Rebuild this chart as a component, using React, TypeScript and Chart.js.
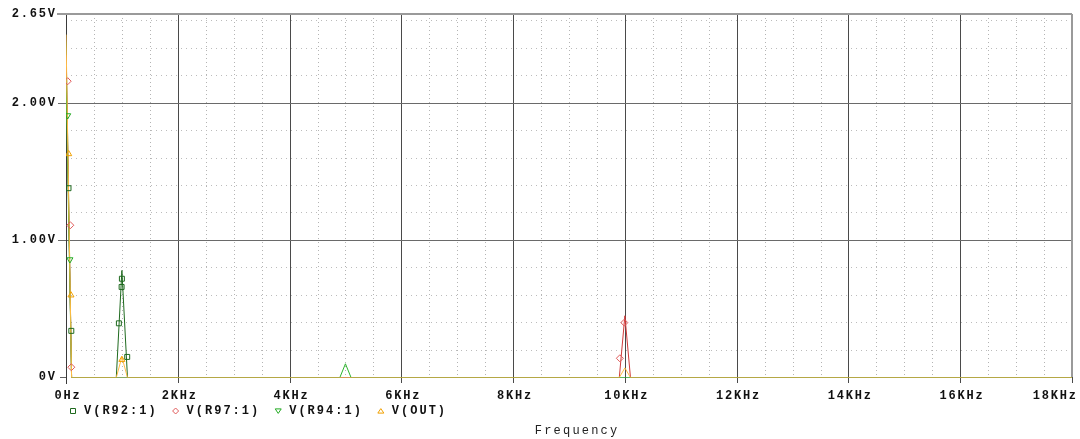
import React, { useEffect, useRef } from 'react';
import { Chart, registerables } from 'chart.js';

Chart.register(...registerables);

// ---- axis ticks ----
const xTickValues = [0, 2000, 4000, 6000, 8000, 10000, 12000, 14000, 16000, 18000];
const xTickLabels = ['0Hz', '2KHz', '4KHz', '6KHz', '8KHz', '10KHz', '12KHz', '14KHz', '16KHz', '18KHz'];
const yTickValues = [0, 1, 2, 2.65];
const yTickLabels = ['0V', '1.00V', '2.00V', '2.65V'];
const xAxisTitle = 'Frequency';

// ---- series ----
const seriesNames = ['V(R92:1)', 'V(R97:1)', 'V(R94:1)', 'V(OUT)'];

const r92Freq = [0, 100, 900, 1000, 1100, 18000];
const r92Volts = [2.45, 0, 0, 0.78, 0, 0];
const r97Freq = [0, 100, 9900, 10000, 10100, 18000];
const r97Volts = [2.35, 0, 0, 0.45, 0, 0];
const r94Freq = [0, 100, 4900, 5000, 5100, 18000];
const r94Volts = [2.2, 0, 0, 0.1, 0, 0];
const outFreq = [0, 100, 900, 1000, 1100, 9900, 10000, 10100, 18000];
const outVolts = [2.5, 0, 0, 0.15, 0, 0, 0.07, 0, 0];

// ---- trace symbols ----
const r92MarkFreq = [45, 95, 946, 995, 1000, 1095];
const r92MarkVolts = [1.38, 0.34, 0.395, 0.66, 0.72, 0.15];
const r97MarkFreq = [30, 77, 95, 9910, 9990];
const r97MarkVolts = [2.16, 1.11, 0.075, 0.14, 0.4];
const r94MarkFreq = [30, 70];
const r94MarkVolts = [1.91, 0.86];
const outMarkFreq = [48, 89, 1000];
const outMarkVolts = [1.63, 0.6, 0.13];

const lineColors = ['#1f6a1f', '#d03a3a', '#2cb52c', '#ffbb44'];
const markColors = ['#1f6a1f', '#e05a5a', '#22aa22', '#f0a000'];
const markStyles = ['rect', 'rectRot', 'triangle', 'triangle'];
const markRot = [0, 0, 180, 0];

const toPts = (f: number[], v: number[]) => f.map((x, i) => ({ x, y: v[i] }));

const FONT_BOLD = 'bold 12px "Liberation Mono", "DejaVu Sans Mono", monospace';
const FONT_REG = '12px "Liberation Mono", "DejaVu Sans Mono", monospace';

function measureSpaced(ctx: CanvasRenderingContext2D, text: string, spacing: number) {
  const chars = Array.from(text);
  return chars.reduce((a, c) => a + ctx.measureText(c).width, 0) + spacing * (chars.length - 1);
}

function drawSpaced(ctx: CanvasRenderingContext2D, text: string, x: number, y: number, align: string, spacing: number, maxRight = Infinity) {
  const chars = Array.from(text);
  const widths = chars.map((c) => ctx.measureText(c).width);
  const w = measureSpaced(ctx, text, spacing);
  let sx = align === 'right' ? x - w : align === 'center' ? x - w / 2 : x;
  if (sx + w > maxRight) sx = maxRight - w;
  ctx.textAlign = 'left';
  chars.forEach((c, i) => {
    ctx.fillText(c, sx, y);
    sx += widths[i] + spacing;
  });
  return w;
}

function drawMarker(ctx: CanvasRenderingContext2D, idx: number, cx: number, cy: number, r: number) {
  ctx.save();
  ctx.strokeStyle = markColors[idx];
  ctx.lineWidth = 1;
  ctx.beginPath();
  if (idx === 0) {
    ctx.rect(cx - r + 0.5, cy - r + 0.5, 2 * r - 1, 2 * r - 1);
  } else if (idx === 1) {
    ctx.moveTo(cx, cy - r);
    ctx.lineTo(cx + r, cy);
    ctx.lineTo(cx, cy + r);
    ctx.lineTo(cx - r, cy);
    ctx.closePath();
  } else if (idx === 2) {
    ctx.moveTo(cx - r, cy - r * 0.7);
    ctx.lineTo(cx + r, cy - r * 0.7);
    ctx.lineTo(cx, cy + r * 0.8);
    ctx.closePath();
  } else {
    ctx.moveTo(cx - r, cy + r * 0.7);
    ctx.lineTo(cx + r, cy + r * 0.7);
    ctx.lineTo(cx, cy - r * 0.8);
    ctx.closePath();
  }
  ctx.stroke();
  ctx.restore();
}

const framePlugin = {
  id: 'pspiceFrame',
  beforeDatasetsDraw(chart: any) {
    const { ctx, chartArea: a, scales } = chart;
    const xs = scales.x;
    const ys = scales.y;
    const bottomPx = Math.floor(ys.getPixelForValue(0));
    ctx.save();
    ctx.lineWidth = 1;
    // minor dotted grid
    ctx.strokeStyle = '#b4b4b4';
    ctx.setLineDash([1, 3]);
    for (let i = 1; i < 36; i++) {
      if (i % 4 === 0) continue;
      const px = Math.round(xs.getPixelForValue(i * 500)) + 0.5;
      ctx.beginPath();
      ctx.moveTo(px, a.top);
      ctx.lineTo(px, bottomPx);
      ctx.stroke();
    }
    ctx.strokeStyle = '#bcbcbc';
    ctx.setLineDash([1, 4]);
    for (let i = 1; i <= 13; i++) {
      if (i % 5 === 0) continue;
      const py = Math.floor(ys.getPixelForValue(i * 0.2)) + 0.5;
      ctx.beginPath();
      ctx.moveTo(a.left, py);
      ctx.lineTo(a.right, py);
      ctx.stroke();
    }
    ctx.setLineDash([]);
    // major grid
    ctx.strokeStyle = '#4a4a4a';
    xTickValues.forEach((v) => {
      if (v === 0) return;
      const px = Math.round(xs.getPixelForValue(v)) + 0.5;
      ctx.beginPath();
      ctx.moveTo(px, a.top);
      ctx.lineTo(px, bottomPx + 6);
      ctx.stroke();
    });
    ctx.strokeStyle = '#6a6a6a';
    yTickValues.forEach((v) => {
      if (v === 0 || v === 2.65) return;
      const py = Math.floor(ys.getPixelForValue(v)) + 0.5;
      ctx.beginPath();
      ctx.moveTo(a.left - 8, py);
      ctx.lineTo(a.right, py);
      ctx.stroke();
    });
    // 0V tick left of the axis
    const by = bottomPx + 0.5;
    ctx.strokeStyle = '#606060';
    ctx.beginPath();
    ctx.moveTo(a.left - 6, by);
    ctx.lineTo(a.left, by);
    ctx.stroke();
    // left axis
    const lx = Math.round(xs.getPixelForValue(0)) + 0.5;
    ctx.strokeStyle = '#3a3a3a';
    ctx.beginPath();
    ctx.moveTo(lx, a.top);
    ctx.lineTo(lx, bottomPx + 7);
    ctx.stroke();
    // top and right borders
    ctx.strokeStyle = '#9a9a9a';
    ctx.lineWidth = 2;
    ctx.beginPath();
    ctx.moveTo(a.left - 9, a.top);
    ctx.lineTo(a.right, a.top);
    ctx.stroke();
    ctx.beginPath();
    ctx.moveTo(a.right, a.top);
    ctx.lineTo(a.right, bottomPx);
    ctx.stroke();

    // tick labels
    ctx.fillStyle = '#111';
    ctx.font = FONT_BOLD;
    ctx.textBaseline = 'middle';
    yTickValues.forEach((v, i) => {
      const py = ys.getPixelForValue(v);
      drawSpaced(ctx, yTickLabels[i], a.left - 11, py - 0.5, 'right', 1.8);
    });
    xTickValues.forEach((v, i) => {
      const px = xs.getPixelForValue(v);
      drawSpaced(ctx, xTickLabels[i], px + 1, bottomPx + 19, 'center', 1.8, chart.width - 4);
    });
    // legend
    let lxp = a.left + 7;
    const ly = bottomPx + 34;
    seriesNames.forEach((name, i) => {
      drawMarker(ctx, i, lxp, ly, 3);
      ctx.fillStyle = '#111';
      ctx.font = FONT_BOLD;
      const w = drawSpaced(ctx, name, lxp + 11, ly, 'left', 2.0);
      lxp = lxp + 11 + w + 20;
    });
    // axis title
    ctx.font = FONT_REG;
    ctx.fillStyle = '#222';
    drawSpaced(ctx, xAxisTitle, (a.left + a.right) / 2 + 7, bottomPx + 54, 'center', 2.2);
    ctx.restore();
  },
};

export default function App() {
  const ref = useRef<HTMLCanvasElement | null>(null);
  useEffect(() => {
    document.body.style.margin = '0';
    const canvas = ref.current;
    if (!canvas) return;
    const lineSets = [
      { f: r92Freq, v: r92Volts },
      { f: r97Freq, v: r97Volts },
      { f: r94Freq, v: r94Volts },
      { f: outFreq, v: outVolts },
    ];
    const markSets = [
      { f: r92MarkFreq, v: r92MarkVolts },
      { f: r97MarkFreq, v: r97MarkVolts },
      { f: r94MarkFreq, v: r94MarkVolts },
      { f: outMarkFreq, v: outMarkVolts },
    ];
    const datasets: any[] = [];
    lineSets.forEach((s, i) => {
      datasets.push({
        type: 'line',
        label: seriesNames[i],
        data: toPts(s.f, s.v),
        borderColor: lineColors[i],
        borderWidth: 1,
        pointRadius: 0,
        tension: 0,
        fill: false,
        order: 10 - i,
      });
    });
    markSets.forEach((s, i) => {
      datasets.push({
        type: 'scatter',
        label: seriesNames[i] + ' symbols',
        data: toPts(s.f, s.v),
        showLine: false,
        pointStyle: markStyles[i],
        rotation: markRot[i],
        pointRadius: 3.5,
        pointBorderWidth: 1,
        borderColor: markColors[i],
        backgroundColor: 'rgba(0,0,0,0)',
        order: 0,
      });
    });
    const chart = new Chart(canvas, {
      type: 'line',
      data: { datasets },
      options: {
        animation: false,
        responsive: false,
        devicePixelRatio: 1,
        layout: { padding: { left: 66, top: 14, right: 8, bottom: 61.5 } },
        plugins: { legend: { display: false }, tooltip: { enabled: false } },
        scales: {
          x: { type: 'linear', min: 0, max: 18000, display: false },
          y: { type: 'linear', min: 0, max: 2.65, display: false },
        },
      },
      plugins: [framePlugin],
    });
    return () => chart.destroy();
  }, []);
  return (
    <div style={{ width: 1080, height: 439, background: '#fff' }}>
      <canvas ref={ref} width={1080} height={439} style={{ display: 'block', width: 1080, height: 439 }} />
    </div>
  );
}
